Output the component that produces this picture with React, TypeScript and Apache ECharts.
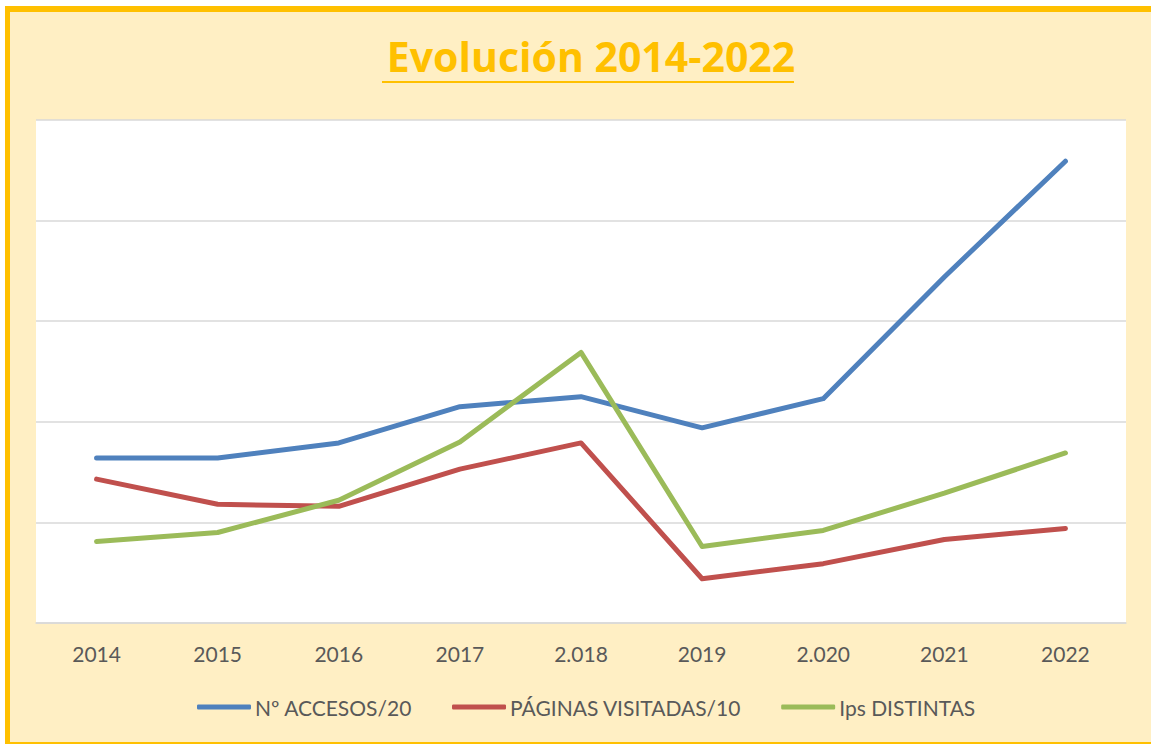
import React, { useEffect, useRef } from "react";
import * as echarts from "echarts";

const years = ["2014", "2015", "2016", "2017", "2.018", "2019", "2.020", "2021", "2022"];
const accesos = [164, 164, 179, 215, 225, 194, 223, 344, 459];
const paginas = [143, 118, 116, 153, 179, 44, 59, 83, 94];
const ips = [81, 90, 122, 180, 269, 76, 92, 129, 169];
const seriesNames = ["Nº ACCESOS/20", "PÁGINAS VISITADAS/10", "Ips DISTINTAS"];
const seriesColors = ["#4F81BD", "#C0504D", "#9BBB59"];
const titleText = "Evolución 2014-2022";

const FONT = "Lato, 'Noto Sans', sans-serif";

export default function App() {
  const ref = useRef<HTMLDivElement>(null);
  useEffect(() => {
    document.body.style.margin = "0";
    const chart = echarts.init(ref.current!, null, { renderer: "svg" });
    const data = [accesos, paginas, ips];
    chart.setOption({
      animation: false,
      backgroundColor: "#FFFFFF",
      textStyle: { fontFamily: FONT },
      graphic: [
        { type: "rect", z: -10, shape: { x: 5, y: 6, width: 1146, height: 738 }, style: { fill: "#FFC000" } },
        { type: "rect", z: -9, shape: { x: 10, y: 12, width: 1141, height: 730 }, style: { fill: "#FFEFC4" } },
        { type: "rect", z: 10, shape: { x: 382, y: 81, width: 412, height: 2 }, style: { fill: "#FFC000" } },
      ],
      title: {
        text: titleText,
        left: 586,
        textAlign: "center",
        top: 29,
        textStyle: { color: "#FFC000", fontSize: 41, fontWeight: "bold", fontFamily: "'Open Sans', sans-serif", lineHeight: 44 },
      },
      grid: {
        left: 36,
        right: 25,
        top: 120,
        bottom: 121,
        show: true,
        backgroundColor: "#FFFFFF",
        borderWidth: 0,
      },
      legend: {
        left: 192,
        top: 690,
        icon: "roundRect",
        itemWidth: 54,
        itemHeight: 5,
        itemGap: 40,
        textStyle: { color: "#595959", fontSize: 21, fontFamily: FONT, padding: [0, 0, 0, -1], lineHeight: 24 },
        data: seriesNames,
      },
      xAxis: {
        type: "category",
        data: years,
        boundaryGap: true,
        axisLine: { show: true, lineStyle: { color: "#D9D9D9", width: 1.5 } },
        axisTick: { show: false },
        axisLabel: { color: "#595959", fontSize: 21, fontFamily: FONT, margin: 20 },
      },
      yAxis: {
        type: "value",
        min: 0,
        max: 500,
        interval: 100,
        axisLabel: { show: false },
        axisLine: { show: false },
        axisTick: { show: false },
        splitLine: { show: true, lineStyle: { color: "#D9D9D9", width: 1.5 } },
      },
      series: seriesNames.map((name, i) => ({
        name,
        type: "line",
        data: data[i],
        symbol: "none",
        color: seriesColors[i],
        lineStyle: { width: 5, color: seriesColors[i], cap: "round", join: "round" },
      })),
    });
    return () => chart.dispose();
  }, []);
  return (
    <div style={{ position: "absolute", left: 0, top: 0, width: 1151, height: 744 }}>
      <div ref={ref} style={{ width: 1151, height: 744 }} />
    </div>
  );
}
